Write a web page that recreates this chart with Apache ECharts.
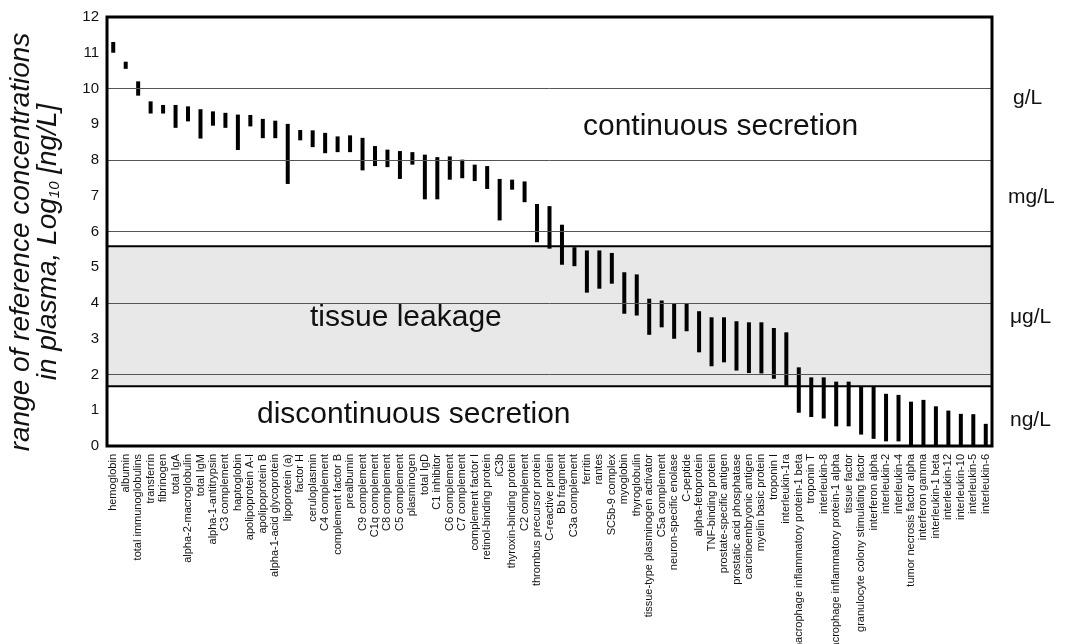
<!DOCTYPE html>
<html>
<head>
<meta charset="utf-8">
<script src="https://cdn.jsdelivr.net/npm/echarts@6/dist/echarts.min.js"></script>
<style>html,body{margin:0;padding:0;background:#fff}#c{width:1073px;height:644px}</style>
</head>
<body>
<div id="c"></div>
<script>
const categories = ["hemoglobin","albumin","total immunoglobulins","transferrin","fibrinogen","total IgA","alpha-2-macroglobulin","total IgM","alpha-1-antitrypsin","C3 complement","haptoglobin","apolipoprotein A-I","apolipoprotein B","alpha-1-acid glycoprotein","lipoprotein (a)","factor H","ceruloplasmin","C4 complement","complement factor B","prealbumin","C9 complement","C1q complement","C8 complement","C5 complement","plasminogen","total IgD","C1 inhibitor","C6 complement","C7 complement","complement factor I","retinol-binding protein","iC3b","thyroxin-binding protein","C2 complement","thrombus precursor protein","C-reactive protein","Bb fragment","C3a complement","ferritin","rantes","SC5b-9 complex","myoglobin","thyroglobulin","tissue-type plasminogen activator","C5a complement","neuron-specific enolase","C-peptide","alpha-fetoprotein","TNF-binding protein","prostate-specific antigen","prostatic acid phosphatase","carcinoembryonic antigen","myelin basic protein","troponin I","interleukin-1ra","macrophage inflammatory protein-1 beta","troponin T","interleukin-8","macrophage inflammatory protein-1 alpha","tissue factor","granulocyte colony stimulating factor","interferon alpha","interleukin-2","interleukin-4","tumor necrosis factor alpha","interferon gamma","interleukin-1 beta","interleukin-12","interleukin-10","interleukin-5","interleukin-6"];

const lowValues = [11.0,10.55,9.8,9.3,9.3,8.9,9.08,8.6,8.96,8.9,8.28,8.94,8.61,8.61,7.33,8.55,8.36,8.19,8.22,8.22,7.71,7.83,7.8,7.47,7.87,6.9,6.9,7.45,7.49,7.41,7.19,6.31,7.17,6.82,5.7,5.52,5.07,5.03,4.29,4.4,4.54,3.7,3.65,3.11,3.32,3.0,3.21,2.62,2.23,2.34,2.11,2.04,2.03,1.88,1.69,0.93,0.81,0.77,0.55,0.55,0.32,0.2,0.13,0.13,0,0,0,0,0,0,0];

const highValues = [11.3,10.75,10.2,9.64,9.54,9.54,9.5,9.42,9.36,9.32,9.27,9.26,9.15,9.1,9.01,8.84,8.83,8.76,8.66,8.69,8.62,8.39,8.29,8.25,8.22,8.15,8.08,8.1,8.01,7.87,7.83,7.47,7.45,7.4,6.77,6.71,6.19,5.56,5.47,5.47,5.4,4.86,4.8,4.12,4.07,3.98,3.98,3.77,3.6,3.6,3.49,3.46,3.46,3.3,3.18,2.2,1.92,1.92,1.8,1.8,1.67,1.67,1.46,1.43,1.24,1.29,1.11,0.99,0.9,0.89,0.62];

const yTicks = [0,1,2,3,4,5,6,7,8,9,10,11,12];
const gridLines = [2,4,6,8,10];
const leakageBand = [1.67, 5.59];

const zoneLabels = [
  {text: "continuous secretion", x: 583, y: 127},
  {text: "tissue leakage", x: 310, y: 318},
  {text: "discontinuous secretion", x: 257, y: 415}
];
const unitLabels = [
  {text: "g/L", x: 1013, y: 98},
  {text: "mg/L", x: 1008, y: 197},
  {text: "\u03bcg/L", x: 1010, y: 317},
  {text: "ng/L", x: 1010, y: 420}
];

const FONT = "'Liberation Sans', Arial, Helvetica, sans-serif";
const rangeValues = highValues.map((h, i) => +(h - lowValues[i]).toFixed(3));

const chart = echarts.init(document.getElementById('c'), null, {renderer: 'canvas'});

const graphics = [];
zoneLabels.forEach(z => graphics.push({
  type: 'text', x: z.x, y: z.y, z: 20,
  style: {text: z.text, fontFamily: FONT, fontSize: 30, fill: '#111', align: 'left', verticalAlign: 'middle'}
}));
unitLabels.forEach(u => graphics.push({
  type: 'text', x: u.x, y: u.y, z: 20,
  style: {text: u.text, fontFamily: FONT, fontSize: 21, fill: '#111', align: 'left', verticalAlign: 'middle'}
}));
graphics.push({
  type: 'text', x: 35, y: 242, rotation: Math.PI / 2, z: 20,
  style: {
    text: '{m|range of reference concentrations}\n{m|in plasma, Log}{s|10}{m| [ng/L]}',
    align: 'center', verticalAlign: 'middle', fill: '#111',
    rich: {
      m: {fontFamily: FONT, fontSize: 28, fontStyle: 'italic', lineHeight: 27, fill: '#111'},
      s: {fontFamily: FONT, fontSize: 15, fontStyle: 'italic', lineHeight: 15, verticalAlign: 'bottom', fill: '#111'}
    }
  }
});

chart.setOption({
  animation: false,
  backgroundColor: '#fff',
  grid: {left: 107, right: 81, top: 17, bottom: 198, show: true, borderColor: '#000', borderWidth: 3,
    backgroundColor: 'transparent', z: 10, containLabel: false, outerBoundsMode: 'none'},
  xAxis: {
    type: 'category', data: categories,
    axisLine: {show: false}, axisTick: {show: false},
    axisLabel: {rotate: 90, interval: 0, fontSize: 11, fontFamily: FONT, color: '#111', margin: 8}
  },
  yAxis: {
    type: 'value', min: 0, max: 12, interval: 1,
    axisLine: {show: false}, axisTick: {show: false}, splitLine: {show: false},
    axisLabel: {fontSize: 15, fontFamily: FONT, color: '#111', margin: 8,
      formatter: v => yTicks.indexOf(v) >= 0 ? String(v) : ''}
  },
  series: [
    {
      type: 'line', data: [], z: 1, silent: true,
      markArea: {
        silent: true,
        itemStyle: {color: '#e8e8e8', borderColor: '#000', borderWidth: 2},
        data: [[{yAxis: leakageBand[0]}, {yAxis: leakageBand[1]}]]
      },
      markLine: {
        silent: true, symbol: 'none', label: {show: false},
        lineStyle: {color: '#555', width: 1, type: 'solid'},
        data: gridLines.map(v => ({yAxis: v}))
      }
    },
    {
      type: 'bar', stack: 'r', data: lowValues, barWidth: 4, z: 3, silent: true,
      itemStyle: {color: 'transparent'}
    },
    {
      type: 'bar', stack: 'r', data: rangeValues, barWidth: 4, z: 3, silent: true,
      itemStyle: {color: '#000'}
    }
  ],
  graphic: graphics
});
</script>
</body>
</html>
